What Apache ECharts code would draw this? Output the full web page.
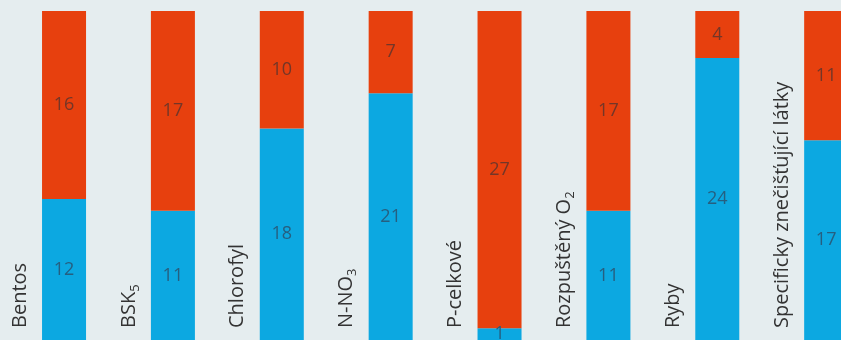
<!DOCTYPE html>
<html><head><meta charset="utf-8">
<script src="https://cdn.jsdelivr.net/npm/echarts@6/dist/echarts.min.js"></script>
<style>html,body{margin:0;padding:0;background:#e5edef;}#c{width:841px;height:340px;}</style>
</head><body><div id="c"></div>
<script>
// Category labels (rich text markup for subscripts)
const categories = ['Bentos', 'BSK{s|5}', 'Chlorofyl', 'N-NO{s|3}', 'P-celkové', 'Rozpuštěný O{s|2}', 'Ryby', 'Specificky znečišťující látky'];
const blueValues = [12, 11, 18, 21, 1, 11, 24, 17];
const redValues  = [16, 17, 10, 7, 27, 17, 4, 11];
const yMax = 28;

const chart = echarts.init(document.getElementById('c'), null, {renderer: 'canvas'});
const font = '"Open Sans", sans-serif';
chart.setOption({
  backgroundColor: '#e5edef',
  animation: false,
  grid: {left: 9.6, width: 871, top: 11, bottom: 0, containLabel: false, outerBoundsMode: 'none'},
  xAxis: {type: 'category', data: categories, axisLine: {show: false}, axisTick: {show: false}, axisLabel: {show: false}, splitLine: {show: false}},
  yAxis: {type: 'value', min: 0, max: yMax, show: false, splitLine: {show: false}},
  series: [
    {type: 'bar', stack: 't', data: blueValues, barWidth: 44,
     itemStyle: {color: '#0ca8e1'},
     label: {show: true, position: 'inside', color: '#265f80', fontFamily: font, fontSize: 18}},
    {type: 'bar', stack: 't', data: redValues, barWidth: 44,
     itemStyle: {color: '#e7400e'},
     label: {show: true, position: 'inside', color: '#733628', fontFamily: font, fontSize: 18}},
    {type: 'custom', data: categories.map((c, i) => [i]), z: 10,
     renderItem: function (params, api) {
       const i = api.value(0);
       const p = api.coord([i, 0]);
       return {type: 'text', x: p[0] - 44, y: p[1] - 12, rotation: Math.PI / 2,
         style: {text: categories[params.dataIndex], fill: '#333',
           fontFamily: 'Open Sans', fontSize: 20,
           align: 'left', verticalAlign: 'middle',
           rich: {s: {fontSize: 13, fontFamily: 'Open Sans', fill: '#333', padding: [12, 0, 0, 0]}}}};
     }}
  ]
});
</script></body></html>
